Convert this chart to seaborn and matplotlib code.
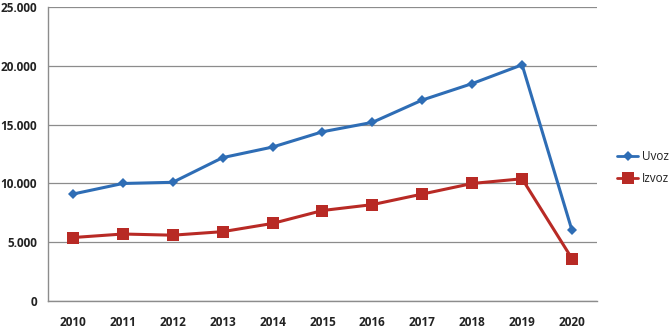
import matplotlib
matplotlib.use("Agg")
import matplotlib.pyplot as plt
from matplotlib.ticker import FuncFormatter, FixedLocator
from matplotlib.lines import Line2D
import seaborn as sns
import pandas as pd

years = [2010, 2011, 2012, 2013, 2014, 2015, 2016, 2017, 2018, 2019, 2020]
uvoz = [9100, 10000, 10100, 12200, 13100, 14400, 15200, 17100, 18500, 20100, 6000]
izvoz = [5400, 5700, 5600, 5900, 6600, 7700, 8200, 9100, 10000, 10400, 3600]
series_names = ["Uvoz", "Izvoz"]
y_ticks = [0, 5000, 10000, 15000, 20000, 25000]

df = pd.DataFrame({
    "Godina": years * 2,
    "Vrijednost": uvoz + izvoz,
    "Serija": [series_names[0]] * len(years) + [series_names[1]] * len(years),
})

sns.set_style("white")
plt.rcParams["font.family"] = ["Open Sans", "DejaVu Sans"]

fig = plt.figure(figsize=(6.7, 3.35), dpi=100)
ax = fig.add_axes([0.0716, 0.1015, 0.8194, 0.877])

palette = {"Uvoz": "#2E6DB5", "Izvoz": "#B82A25"}
markers = {"Uvoz": "D", "Izvoz": "s"}
sns.lineplot(data=df, x="Godina", y="Vrijednost", hue="Serija", style="Serija",
             palette=palette, markers=markers, dashes=False, linewidth=2.2,
             ax=ax, legend=False)
for line, name in zip(ax.get_lines(), series_names):
    line.set_markersize(5.5 if name == "Uvoz" else 8)
    line.set_markeredgewidth(0)

ax.set_xlim(years[0] - 0.5, years[-1] + 0.5)
ax.set_ylim(0, 25000)
ax.set_yticks(y_ticks)
ax.yaxis.set_major_formatter(FuncFormatter(lambda v, p: f"{int(v):,}".replace(",", ".")))
ax.set_xticks(years)
ax.xaxis.set_minor_locator(FixedLocator([y - 0.5 for y in years] + [years[-1] + 0.5]))
ax.tick_params(axis="x", which="major", length=0, pad=11)
ax.tick_params(axis="x", which="minor", length=4, color="#888888", width=1, direction="out")
ax.tick_params(axis="y", which="major", length=4, color="#888888", width=1, direction="out", pad=4)
for lbl in ax.get_xticklabels() + ax.get_yticklabels():
    lbl.set_fontsize(8.5)
    lbl.set_fontweight("bold")
    lbl.set_color("#222222")

ax.yaxis.grid(True, color="#8c8c8c", linewidth=0.9)
ax.xaxis.grid(False)
ax.set_axisbelow(True)
for s in ["top", "right"]:
    ax.spines[s].set_visible(False)
for s in ["left", "bottom"]:
    ax.spines[s].set_color("#8c8c8c")
    ax.spines[s].set_linewidth(1)
ax.set_xlabel("")
ax.set_ylabel("")

handles = [Line2D([], [], color=palette[n], marker=markers[n], linewidth=2,
                  markersize=5.5 if n == "Uvoz" else 8, markeredgewidth=0) for n in series_names]
leg = fig.legend(handles, series_names, loc="center left", bbox_to_anchor=(0.905, 0.5),
                 frameon=False, fontsize=8.5, handlelength=1.8, handletextpad=0.3,
                 labelspacing=0.8)
for t in leg.get_texts():
    t.set_color("#222222")

fig.savefig("out.png", dpi=100)
